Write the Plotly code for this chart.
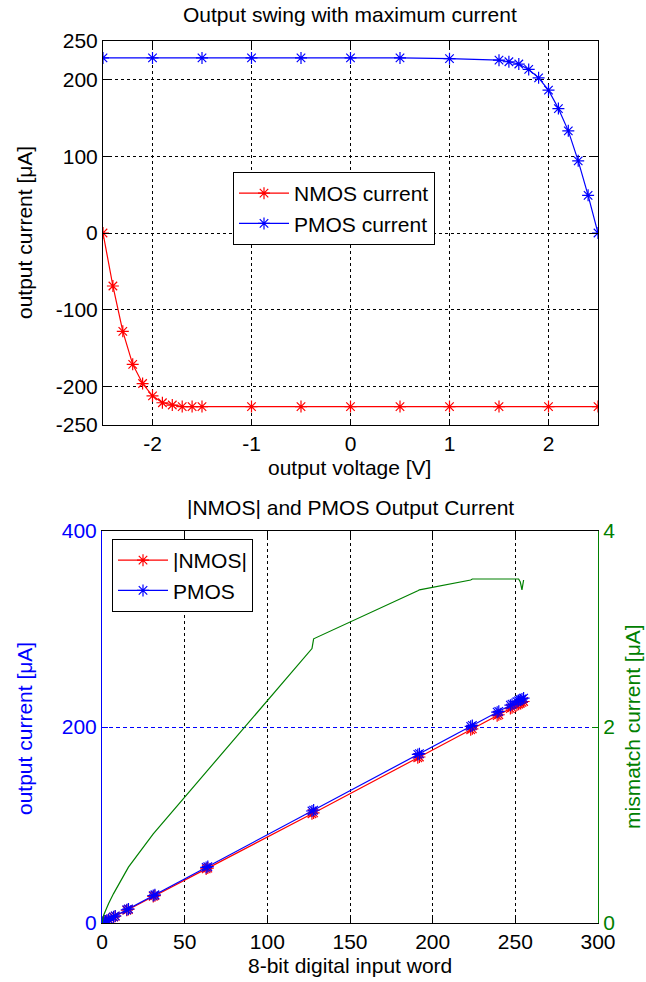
import plotly.graph_objects as go

# ---- Top chart data: output swing with maximum current ----
vout = [-2.5, -2.4, -2.3, -2.2, -2.1, -2.0, -1.9, -1.8, -1.7, -1.6, -1.5,
        -1.0, -0.5, 0.0, 0.5, 1.0, 1.5, 2.0, 2.5]
nmos_current = [0, -69, -128, -171, -196, -212, -221, -224, -226, -226, -226,
                -226, -226, -226, -226, -226, -226, -226, -226]

vout_p = [-2.5, -2.0, -1.5, -1.0, -0.5, 0.0, 0.5, 1.0, 1.5, 1.6, 1.7, 1.8,
          1.9, 2.0, 2.1, 2.2, 2.3, 2.4, 2.5]
pmos_current = [228, 228, 228, 228, 228, 228, 228, 227, 225, 223, 220, 213,
                202, 186, 162, 133, 94, 49, 0]

top_xticks = [-2, -1, 0, 1, 2]
top_xtext = ["-2", "-1", "0", "1", "2"]
top_yticks = [-250, -200, -100, 0, 100, 200, 250]
top_ytext = ["-250", "-200", "-100", "0", "100", "200", "250"]

# ---- Bottom chart data: |NMOS| and PMOS output current vs input word ----
codes = [0, 1, 2, 3, 4, 7, 8, 15, 16, 31, 32, 63, 64, 127, 128, 191, 192,
         223, 224, 239, 240, 247, 248, 251, 252, 253, 254, 255]
pmos_out = [0, 0.9, 1.8, 2.7, 3.6, 6.3, 7.2, 13.5, 14.4, 28.0, 28.8, 56.7,
            57.6, 114.3, 115.2, 172.0, 172.8, 200.7, 201.6, 215.1, 216.0,
            222.3, 223.2, 225.9, 226.8, 227.7, 228.6, 229.5]
nmos_out = [0, 0.8, 1.7, 2.5, 3.4, 6.0, 6.9, 13.0, 13.8, 27.1, 27.9, 55.2,
            56.0, 111.5, 112.3, 168.6, 169.4, 197.2, 198.1, 211.6, 212.5,
            218.8, 219.7, 222.4, 223.3, 224.2, 225.2, 226.0]
mismatch = [0, 0.08, 0.12, 0.16, 0.2, 0.3, 0.33, 0.55, 0.57, 0.91, 0.93,
            1.54, 1.56, 2.80, 2.90, 3.39, 3.40, 3.50, 3.51, 3.51, 3.51, 3.51,
            3.51, 3.51, 3.51, 3.48, 3.40, 3.50]

bot_xticks = [0, 50, 100, 150, 200, 250, 300]
left_ticks = [0, 200, 400]
right_ticks = [0, 2, 4]

FONT = "Liberation Sans, Arial, sans-serif"
FS = 21
W, H = 646, 982

RED = "#FF0000"
BLUE = "#0000FF"
GREEN = "#008000"


def px_x(x):
    return x / W


def px_y(y):
    return 1 - y / H


def mk(color):
    return dict(symbol="asterisk-open", size=10, color=color,
                line=dict(width=1.2, color=color))


fig = go.Figure()

fig.add_trace(go.Scatter(x=vout, y=nmos_current, mode="lines+markers",
                         name="NMOS current", line=dict(color=RED, width=1.2),
                         marker=mk(RED), xaxis="x", yaxis="y", legend="legend"))
fig.add_trace(go.Scatter(x=vout_p, y=pmos_current, mode="lines+markers",
                         name="PMOS current", line=dict(color=BLUE, width=1.2),
                         marker=mk(BLUE), xaxis="x", yaxis="y", legend="legend"))

fig.add_trace(go.Scatter(x=codes, y=nmos_out, mode="lines+markers",
                         name="|NMOS|", line=dict(color=RED, width=1.2),
                         marker=mk(RED), xaxis="x2", yaxis="y2", legend="legend2"))
fig.add_trace(go.Scatter(x=codes, y=pmos_out, mode="lines+markers",
                         name="PMOS", line=dict(color=BLUE, width=1.2),
                         marker=mk(BLUE), xaxis="x2", yaxis="y2", legend="legend2"))
fig.add_trace(go.Scatter(x=codes, y=mismatch, mode="lines",
                         name="mismatch", line=dict(color=GREEN, width=1.2),
                         xaxis="x2", yaxis="y3", showlegend=False))

grid = dict(showgrid=True, gridcolor="black", griddash="3px,3px", gridwidth=1)
common = dict(showline=True, linecolor="black", linewidth=1, ticks="inside",
              ticklen=6, tickcolor="black", zeroline=False, automargin=False,
              tickfont=dict(family=FONT, size=FS, color="black"))

fig.update_layout(
    width=W, height=H,
    margin=dict(l=0, r=0, t=0, b=0, autoexpand=False),
    paper_bgcolor="white", plot_bgcolor="white",
    font=dict(family=FONT, size=FS, color="black"),
    xaxis=dict(domain=[px_x(103), px_x(598)], range=[-2.5, 2.5],
               tickvals=top_xticks, ticktext=top_xtext, anchor="y",
               mirror="ticks", **grid, **common),
    yaxis=dict(domain=[px_y(425), px_y(41)], range=[-250, 250],
               tickvals=top_yticks, ticktext=top_ytext, anchor="x",
               mirror="ticks", **grid, **common),
    xaxis2=dict(domain=[px_x(102), px_x(598)], range=[0, 300],
                tickvals=bot_xticks, anchor="y2",
                mirror="ticks", **grid, **common),
    yaxis2=dict(domain=[px_y(923), px_y(531)], range=[0, 400],
                tickvals=left_ticks, anchor="x2", automargin=False,
                showgrid=True, gridcolor=BLUE, griddash="4px,3px",
                showline=True, linecolor=BLUE, linewidth=1, ticks="inside",
                ticklen=6, tickcolor=BLUE, zeroline=False,
                tickfont=dict(family=FONT, size=FS, color=BLUE)),
    yaxis3=dict(range=[0, 4], tickvals=right_ticks, overlaying="y2",
                side="right", anchor="x2", showgrid=False, automargin=False,
                showline=True, linecolor=GREEN, linewidth=1, ticks="inside",
                ticklen=6, tickcolor=GREEN, zeroline=False,
                tickfont=dict(family=FONT, size=FS, color=GREEN)),
    legend=dict(x=px_x(233), y=px_y(172), xanchor="left", yanchor="top",
                bgcolor="white", bordercolor="black", borderwidth=1,
                font=dict(family=FONT, size=FS, color="black"),
                tracegroupgap=0, itemwidth=50),
    legend2=dict(x=px_x(112), y=px_y(539), xanchor="left", yanchor="top",
                 bgcolor="white", bordercolor="black", borderwidth=1,
                 font=dict(family=FONT, size=FS, color="black"),
                 tracegroupgap=0, itemwidth=50),
)

ann = [
    dict(text="Output swing with maximum current", x=px_x(350), y=px_y(15)),
    dict(text="output voltage [V]", x=px_x(349), y=px_y(467)),
    dict(text="output current [μA]", x=px_x(25), y=px_y(233), textangle=-90),
    dict(text="|NMOS| and PMOS Output Current", x=px_x(350), y=px_y(507)),
    dict(text="8-bit digital input word", x=px_x(350), y=px_y(965)),
    dict(text="output current [μA]", x=px_x(24), y=px_y(729), textangle=-90,
         font=dict(family=FONT, size=FS, color=BLUE)),
    dict(text="mismatch current [μA]", x=px_x(632), y=px_y(727), textangle=-90,
         font=dict(family=FONT, size=FS, color=GREEN)),
]
for a in ann:
    a.setdefault("font", dict(family=FONT, size=FS, color="black"))
    fig.add_annotation(xref="paper", yref="paper", xanchor="center",
                       yanchor="middle", showarrow=False, **a)

fig.write_html(
    "out.html",
    config={"displayModeBar": False},
    post_script="document.body.style.margin='0';"
                "document.body.style.overflow='hidden';",
)
